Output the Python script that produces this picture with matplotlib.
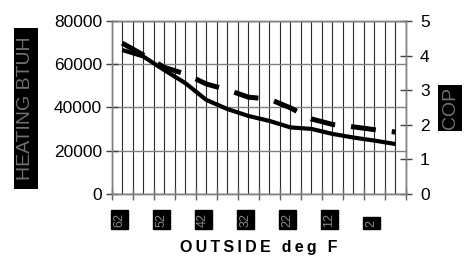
import numpy as np
import matplotlib
matplotlib.use("Agg")
import matplotlib.pyplot as plt
from matplotlib.patches import Rectangle
import matplotlib.transforms as mtransforms

plt.rcParams['font.family'] = ['Liberation Sans', 'DejaVu Sans']

# datos
temps_exterior = [62, 57, 52, 47, 42, 37, 32, 27, 22, 17, 12, 7, 2, -3]
calor_btuh = [66600, 63600, 57300, 51300, 43500, 39300, 36100,
              33800, 30800, 30100, 27800, 26100, 24700, 23100]
cop = [4.36, 4.02, 3.66, 3.47, 3.18, 3.01, 2.80,
       2.74, 2.49, 2.17, 2.01, 1.94, 1.86, 1.79]

W, H = 474, 257
fig = plt.figure(figsize=(W / 100, H / 100), dpi=100)
ax = fig.add_axes([111.7 / W, 1 - 194 / H, (406 - 111.7) / W, (194 - 21) / H])
ax2 = ax.twinx()

n = len(temps_exterior)
x = np.arange(n) + 0.5

ax.plot(x, calor_btuh, color='black', lw=3.0, solid_capstyle='butt', zorder=3)
ax2.plot(x, cop, color='black', lw=3.6, linestyle=(0, (5, 3.2)),
         dash_capstyle='butt', zorder=3)

ax.set_xlim(0, n)
ax.set_ylim(0, 80000)
ax2.set_ylim(0, 5)
ax.set_yticks(np.arange(0, 80001, 20000))
ax2.set_yticks(np.arange(0, 6, 1))

# rejilla vertical cada media categoria
ax.set_xticks(np.arange(0, n + 1))
ax.set_xticks(np.arange(0.5, n, 0.5), minor=True)
ax.set_xticklabels([])
ax.grid(True, which='both', axis='x', color='#2a2a2a', lw=0.8)
ax.grid(True, which='major', axis='y', color='#808080', lw=1.0)
ax.set_axisbelow(True)

for a in (ax, ax2):
    for s in a.spines.values():
        s.set_color('#808080')
        s.set_linewidth(1.0)

ax.tick_params(axis='x', which='major', direction='inout', length=8,
               width=1, color='#606060')
ax.tick_params(axis='x', which='minor', length=0)
ax.tick_params(axis='y', direction='inout', length=8, width=1,
               color='#404040', labelsize=12.5, pad=3)
ax2.tick_params(axis='y', direction='inout', length=8, width=1,
                color='#404040', labelsize=12.5, pad=6)

# etiquetas del eje x (una si y otra no)
trans = mtransforms.blended_transform_factory(ax.transData, ax.transAxes)
for i in range(0, n, 2):
    ax.text(x[i] - 0.15, -0.19, str(temps_exterior[i]), transform=trans,
            rotation=90, ha='center', va='bottom', fontsize=9,
            color='#8a8a8a',
            bbox=dict(boxstyle='square,pad=0.2', fc='black', ec='black'))

# cajas negras de los titulos de eje
fig.patches.append(Rectangle((14 / W, 1 - 189 / H), 23.7 / W, 161.3 / H,
                             transform=fig.transFigure, fc='black', ec='none'))
fig.text(25.9 / W, 1 - 108.3 / H, 'HEATING BTUH', rotation=90,
         ha='center', va='center', fontsize=14, color='#707070')
fig.patches.append(Rectangle((438.3 / W, 1 - 130.7 / H), 23.4 / W, 45.7 / H,
                             transform=fig.transFigure, fc='black', ec='none'))
fig.text(450 / W, 1 - 107.9 / H, 'COP', rotation=90,
         ha='center', va='center', fontsize=14, color='#707070')

titulo = '\u2009'.join('OUTSIDE deg F')
fig.text(259 / W, 1 - 247.5 / H, titulo, ha='center', va='center',
         fontsize=11.5, fontweight='bold')

fig.savefig('out.png', dpi=100)
